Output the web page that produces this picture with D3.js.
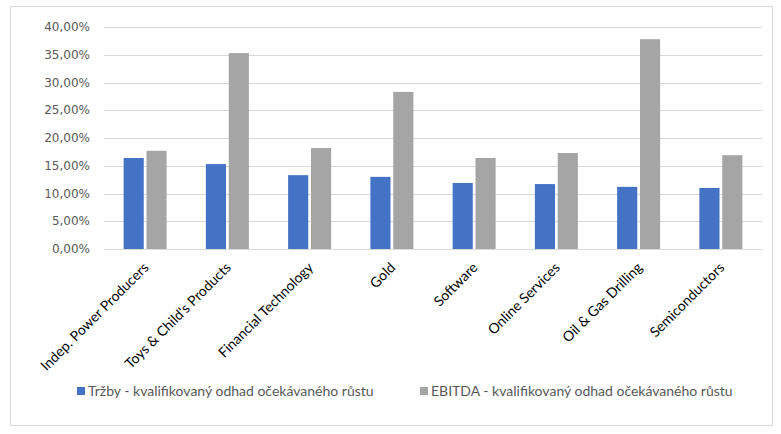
<!DOCTYPE html>
<html>
<head>
<meta charset="utf-8">
<script src="https://d3js.org/d3.v7.min.js"></script>
<style>
  body { margin: 0; background: #fff; }
  .ytick { font-family: "DejaVu Sans", sans-serif; font-size: 12px; fill: #595959; }
  .xlab { font-family: Lato, sans-serif; font-size: 14px; fill: #000; }
  .legend text { font-family: Lato, sans-serif; font-size: 14px; fill: #595959; }
</style>
</head>
<body>
<div id="chart"></div>
<script>
(function(d3) {
  'use strict';

  var categories = ['Indep. Power Producers', 'Toys & Child\'s Products', 'Financial Technology',
    'Gold', 'Software', 'Online Services', 'Oil & Gas Drilling', 'Semiconductors'];
  var trzby = [0.164, 0.153, 0.133, 0.130, 0.119, 0.117, 0.112, 0.110];
  var ebitda = [0.177, 0.353, 0.182, 0.283, 0.164, 0.173, 0.378, 0.169];
  var seriesNames = ['Tržby - kvalifikovaný odhad očekávaného růstu',
    'EBITDA - kvalifikovaný odhad očekávaného růstu'];
  var seriesColors = ['#4472C4', '#A5A5A5'];
  var yTicks = [0, 0.05, 0.10, 0.15, 0.20, 0.25, 0.30, 0.35, 0.40];

  var width = 781, height = 434;
  var left = 104, right = 762, top = 27, bottom = 249;

  var fmt = d3.formatLocale({ decimal: ',', thousands: ' ', grouping: [3], currency: ['', ' Kč'] })
    .format('.2%');

  var svg = d3.select('#chart').append('svg')
    .attr('width', width)
    .attr('height', height);

  // outer chart border
  svg.append('rect')
    .attr('x', 10.5).attr('y', 6.5)
    .attr('width', 762).attr('height', 419)
    .attr('fill', 'none')
    .attr('stroke', '#d9d9d9');

  var y = d3.scaleLinear().domain([0, 0.40]).range([bottom, top]);

  var x0 = d3.scaleBand()
    .domain(categories)
    .range([left, right])
    .paddingInner(0.477)
    .paddingOuter(0.2385);

  var x1 = d3.scaleBand()
    .domain([0, 1])
    .range([0, x0.bandwidth()])
    .paddingInner(0.12);

  // gridlines
  svg.append('g').selectAll('line')
    .data(yTicks)
    .enter().append('line')
    .attr('x1', left).attr('x2', right)
    .attr('y1', function(d) { return Math.round(y(d)) + 0.5; })
    .attr('y2', function(d) { return Math.round(y(d)) + 0.5; })
    .attr('stroke', '#d9d9d9');

  svg.append('g').selectAll('text')
    .data(yTicks)
    .enter().append('text')
    .attr('class', 'ytick')
    .attr('x', 90)
    .attr('y', function(d) { return y(d); })
    .attr('dy', '0.35em')
    .attr('text-anchor', 'end')
    .text(fmt);

  var rows = categories.map(function(c, i) { return { cat: c, vals: [trzby[i], ebitda[i]] }; });

  var groups = svg.append('g').selectAll('g')
    .data(rows)
    .enter().append('g')
    .attr('transform', function(d) { return 'translate(' + x0(d.cat) + ',0)'; });

  groups.selectAll('rect')
    .data(function(d) { return d.vals.map(function(v, j) { return { v: v, j: j }; }); })
    .enter().append('rect')
    .attr('x', function(d) { return x1(d.j); })
    .attr('width', x1.bandwidth())
    .attr('y', function(d) { return y(d.v); })
    .attr('height', function(d) { return y(0) - y(d.v); })
    .attr('fill', function(d) { return seriesColors[d.j]; });

  // baseline drawn over bars
  svg.append('line')
    .attr('x1', left).attr('x2', right)
    .attr('y1', Math.round(y(0)) + 0.5).attr('y2', Math.round(y(0)) + 0.5)
    .attr('stroke', '#d9d9d9');

  // rotated category labels
  svg.append('g').selectAll('text')
    .data(categories)
    .enter().append('text')
    .attr('class', 'xlab')
    .attr('text-anchor', 'end')
    .attr('transform', function(d) {
      var cx = x0(d) + x0.bandwidth() / 2;
      return 'translate(' + (cx + 1) + ',' + 265 + ') rotate(-45)';
    })
    .attr('dy', '0.35em')
    .text(function(d) { return d; });

  // legend
  var legendX = [77, 420];
  var legend = svg.selectAll('.legend')
    .data(seriesNames)
    .enter().append('g')
    .attr('class', 'legend')
    .attr('transform', function(d, i) { return 'translate(' + legendX[i] + ',391)'; });

  legend.append('rect')
    .attr('x', 0).attr('y', -4)
    .attr('width', 8).attr('height', 8)
    .attr('fill', function(d, i) { return seriesColors[i]; });

  legend.append('text')
    .attr('x', 11)
    .attr('dy', '0.35em')
    .text(function(d) { return d; });

})(window.d3);
</script>
</body>
</html>
